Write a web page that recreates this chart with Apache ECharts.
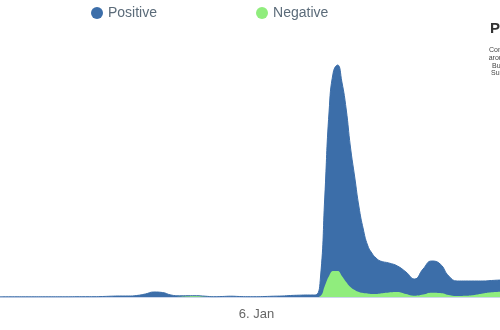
<!DOCTYPE html>
<html>
<head>
<meta charset="utf-8">
<script src="https://cdn.jsdelivr.net/npm/echarts@6/dist/echarts.min.js"></script>
<style>
html,body{margin:0;padding:0;background:#fff;}
#c{width:500px;height:330px;}
</style>
</head>
<body>
<div id="c"></div>
<script>
// Hours since 3 Jan 12:00
const hours = [0,2,4,6,8,10,12,14,16,18,20,22,24,26,28,30,32,34,36,38,40,42,44,46,48,50,52,54,56,58,60,62,64,66,68,70,72,
  73,74,75,76,77,78,79,80,81,82,83,84,85,86,87,88,89,
  91,93,95,97,99,101,103,105,107,109,111,113,115,117];
const positive = [0.2,0.2,0.2,0.2,0.2,0.2,0.2,0.2,0.2,0.3,0.3,0.3,0.5,0.8,1,1,1.5,3,5,4.5,2,1.2,1.3,1.3,0.8,0.3,0.5,0.8,0.5,0.3,0.3,0.5,0.8,1,1.5,1.8,2,
  2,2.3,20,100,185,225,232,215,188,150,120,90,68,52,44,39,36,
  34,31,25,18,28,36,33,21,16,16,16,16,16.5,17];
const negative = [0,0,0,0,0,0,0,0,0,0,0,0,0,0,0,0,0,0,0,0,0,0.3,0.8,1,0.5,0.1,0,0,0,0,0,0,0,0,0,0,0,
  0,0,1,11,21,26,26,21,15,10,7,5,4,3.5,3,3,3.5,
  4.5,5,3,1.3,2.5,4.3,4,2,1,1.2,2,3.5,4.7,5.3];
const seriesNames = ['Positive','Negative'];
const tickLabels = {60: '6. Jan'};
const titleText = 'Public Sentiment';
const subtitleLines = ['Comments', 'around', 'Bu', 'Su'];

const chart = echarts.init(document.getElementById('c'), null, {renderer:'canvas'});
const pair = (arr) => hours.map((h,i)=>[h,arr[i]]);
const subX = [489, 488.7, 492, 491];
const subY = [47, 55, 63, 70];
chart.setOption({
  animation: false,
  title: {
    text: titleText, left: 485, top: 16,
    textStyle: {fontFamily:'Liberation Sans, Arial, sans-serif', fontSize: 15, fontWeight: 'bold', color:'#333333'}
  },
  graphic: subtitleLines.map((t,i)=>({
    type:'text', left: subX[i], top: subY[i],
    style:{text:t, font:'7px "Liberation Sans", Arial, sans-serif', fill:'#444'}
  })),
  legend: {
    data: seriesNames, left: 86, top: 1, icon: 'circle', itemWidth: 12, itemHeight: 12, itemGap: 99,
    textStyle: {fontFamily:'Liberation Sans, Arial, sans-serif', fontSize: 14, color:'#5b6b79'}
  },
  grid: {left: 0, right: 0, top: 47, bottom: 33},
  xAxis: {
    type: 'value', min: 0, max: 117, interval: 60,
    axisLine: {show:true, lineStyle:{color:'#ccd6eb', width:1}},
    axisTick: {show:false},
    splitLine: {show:false},
    axisLabel: {
      margin: 11, fontSize: 13, color:'#666666', fontFamily:'Liberation Sans, Arial, sans-serif',
      formatter: v => tickLabels[v] || '', showMinLabel:false, showMaxLabel:false
    }
  },
  yAxis: {type:'value', min:0, max:250, show:false, splitLine:{show:false}},
  series: [
    {name:'Positive', type:'line', smooth:true, showSymbol:false, data: pair(positive),
     itemStyle:{color:'#3c6ea9'}, lineStyle:{color:'#3c6ea9', width:1}, areaStyle:{color:'#3c6ea9', opacity:1}},
    {name:'Negative', type:'line', smooth:true, showSymbol:false, data: pair(negative),
     itemStyle:{color:'#90ed7d'}, lineStyle:{color:'#90ed7d', width:0}, areaStyle:{color:'#90ed7d', opacity:1}}
  ]
});
</script>
</body>
</html>
